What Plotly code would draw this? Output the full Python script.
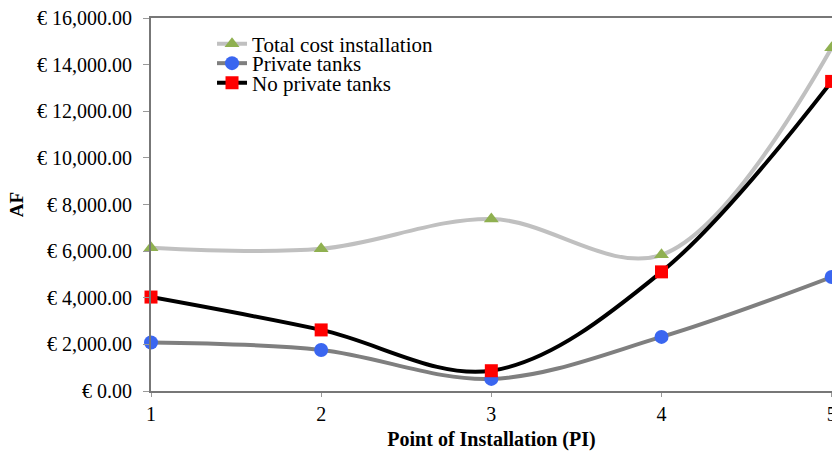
import plotly.graph_objects as go

points = [1, 2, 3, 4, 5]
total_cost = [6150, 6100, 7380, 5840, 14720]
private_tanks = [2080, 1760, 520, 2320, 4890]
no_private_tanks = [4030, 2620, 870, 5110, 13280]

series = [
    ("Total cost installation", total_cost, "#c0c0c0", "triangle-up", "#8fb050", 13, "legend"),
    ("Private tanks", private_tanks, "#7f7f7f", "circle", "#3a66f0", 14, "legend2"),
    ("No private tanks", no_private_tanks, "#000000", "square", "#ff0000", 13, "legend3"),
]

fig = go.Figure()
for name, vals, lc, sym, mc, ms, lg in series:
    fig.add_trace(go.Scatter(
        x=points, y=vals, name=name, mode="lines+markers",
        line=dict(color=lc, width=4, shape="spline", smoothing=1.0),
        marker=dict(symbol=sym, color=mc, size=ms),
        cliponaxis=False, legend=lg,
    ))

serif = "Liberation Serif, Times New Roman, serif"
legend_font = dict(family=serif, size=21, color="black")


def legend_box(ypos):
    return dict(x=0.0896, y=ypos, xanchor="left", yanchor="middle",
                font=legend_font, bgcolor="rgba(0,0,0,0)", itemwidth=30)


fig.update_layout(
    width=832, height=456,
    margin=dict(l=151, r=0, t=18, b=65),
    paper_bgcolor="white", plot_bgcolor="white",
    font=dict(family=serif, size=20, color="black"),
    showlegend=True,
    legend=legend_box(0.9303),
    legend2=legend_box(0.8780),
    legend3=legend_box(0.8257),
    xaxis=dict(range=[1, 5.002], tickvals=points, ticktext=[str(p) for p in points],
               showgrid=False, zeroline=False, showline=True, linecolor="#777777",
               linewidth=2, mirror=True, ticks="outside", ticklen=4, tickcolor="#999999",
               automargin=False, ticklabeloverflow="allow",
               tickfont=dict(family=serif, size=20),
               title=dict(text="<b>Point of Installation (PI)</b>",
                          font=dict(family=serif, size=20), standoff=8)),
    yaxis=dict(range=[0, 16000], dtick=2000, tickprefix="€ ", tickformat=",.2f",
               showgrid=False, zeroline=False, showline=True, linecolor="#777777",
               linewidth=2, mirror=True, ticks="outside", ticklen=6, tickcolor="#999999",
               automargin=False, ticklabelstandoff=7, tickfont=dict(family=serif, size=20),
               title=dict(text="<b>AF</b>", font=dict(family=serif, size=19), standoff=8)),
)

fig.write_html("out.html")
